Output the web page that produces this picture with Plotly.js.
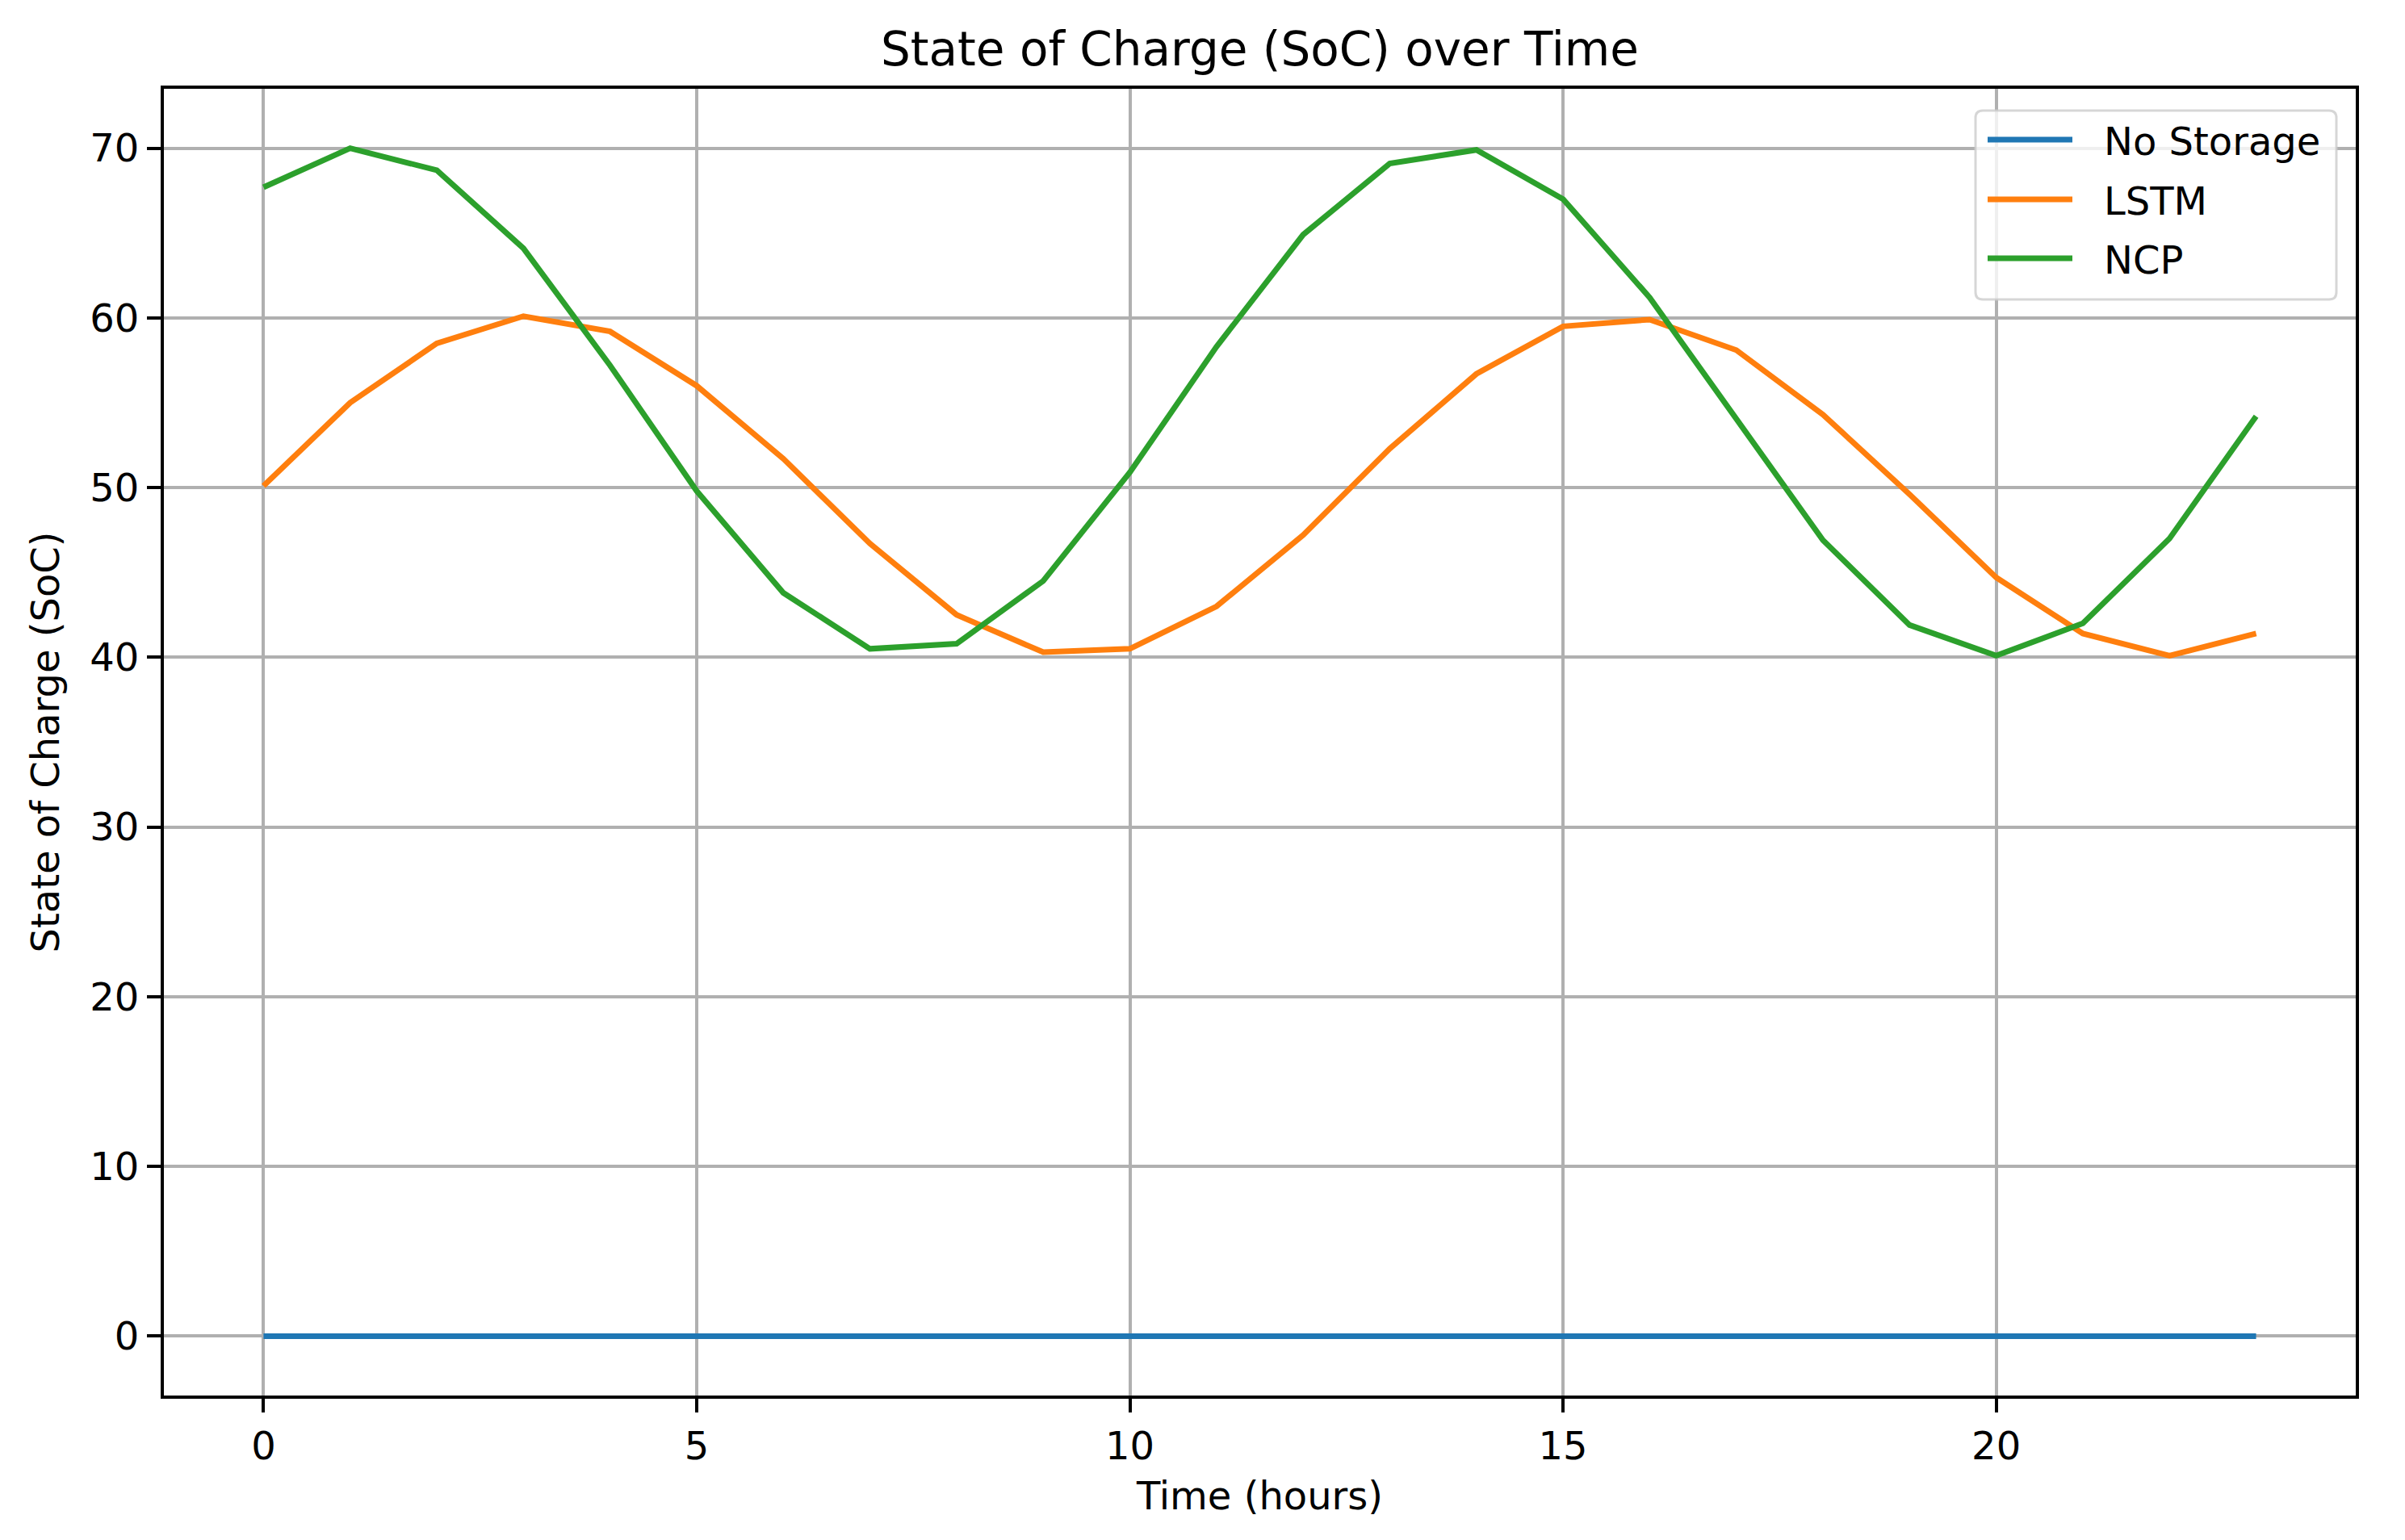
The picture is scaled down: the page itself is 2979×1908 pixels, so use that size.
<!DOCTYPE html>
<html>
<head>
<meta charset="utf-8">
<script src="https://cdn.plot.ly/plotly-3.0.1.min.js"></script>
<style>
  html, body { margin: 0; padding: 0; background: #ffffff; }
  #chart { width: 2979px; height: 1908px; }
</style>
</head>
<body>
<div id="chart"></div>
<script>
// ---- Data ----
const hours = [0,1,2,3,4,5,6,7,8,9,10,11,12,13,14,15,16,17,18,19,20,21,22,23];
const noStorage = [0,0,0,0,0,0,0,0,0,0,0,0,0,0,0,0,0,0,0,0,0,0,0,0];
const lstm = [50.1, 55.0, 58.5, 60.1, 59.2, 56.0, 51.7, 46.7, 42.5, 40.3, 40.5, 43.0,
              47.2, 52.3, 56.7, 59.5, 59.9, 58.1, 54.3, 49.6, 44.7, 41.4, 40.1, 41.4];
const ncp = [67.7, 70.0, 68.7, 64.1, 57.2, 49.8, 43.8, 40.5, 40.8, 44.5, 50.9, 58.3,
             64.9, 69.1, 69.9, 67.0, 61.2, 54.0, 46.9, 41.9, 40.1, 42.0, 47.0, 54.2];
const seriesNames = ["No Storage", "LSTM", "NCP"];
const xTicks = [0, 5, 10, 15, 20];
const yTicks = [0, 10, 20, 30, 40, 50, 60, 70];

const FONT = "DejaVu Sans, Liberation Sans, sans-serif";
const colors = ["#1f77b4", "#ff7f0e", "#2ca02c"];
const seriesData = [noStorage, lstm, ncp];

// ---- Geometry ----
const W = 2979, H = 1908;
const M = { l: 203, r: 61, t: 110, b: 179 };
const PW = W - M.l - M.r, PH = H - M.t - M.b;
const px2x = (px) => (px - M.l) / PW;         // pixel -> paper x
const py2y = (py) => 1 - (py - M.t) / PH;     // pixel -> paper y

const traces = seriesData.map((ys, i) => ({
  x: hours,
  y: ys,
  type: "scatter",
  mode: "lines",
  name: seriesNames[i],
  showlegend: false,
  line: { color: colors[i], width: 7 }
}));

// ---- Matplotlib-style legend (box, line samples, labels) ----
const lg = { left: 2447, right: 2894, top: 137, bottom: 371, r: 9,
             lineX0: 2462, lineX1: 2567, textX: 2604, rowY: [173, 247, 320] };
function roundedRectPath(l, t, r, b, rad) {
  const x0 = px2x(l), x1 = px2x(r), yT = py2y(t), yB = py2y(b);
  const rx = rad / PW, ry = rad / PH;
  return `M ${x0 + rx},${yT} L ${x1 - rx},${yT} Q ${x1},${yT} ${x1},${yT - ry} ` +
         `L ${x1},${yB + ry} Q ${x1},${yB} ${x1 - rx},${yB} ` +
         `L ${x0 + rx},${yB} Q ${x0},${yB} ${x0},${yB + ry} ` +
         `L ${x0},${yT - ry} Q ${x0},${yT} ${x0 + rx},${yT} Z`;
}
const shapes = [{
  type: "path", xref: "paper", yref: "paper", layer: "above",
  path: roundedRectPath(lg.left, lg.top, lg.right, lg.bottom, lg.r),
  fillcolor: "rgba(255,255,255,0.8)",
  line: { color: "rgba(204,204,204,0.8)", width: 3 }
}];
const annotations = [];
seriesNames.forEach((name, i) => {
  shapes.push({
    type: "line", xref: "paper", yref: "paper", layer: "above",
    x0: px2x(lg.lineX0), x1: px2x(lg.lineX1),
    y0: py2y(lg.rowY[i]), y1: py2y(lg.rowY[i]),
    line: { color: colors[i], width: 7 }
  });
  annotations.push({
    xref: "paper", yref: "paper", showarrow: false,
    x: px2x(lg.textX), y: py2y(lg.rowY[i] + 2),
    xanchor: "left", yanchor: "middle",
    text: name,
    font: { family: FONT, size: 48, color: "#000000" }
  });
});

const axisCommon = {
  showline: true,
  mirror: true,
  linecolor: "#000000",
  linewidth: 4,
  ticks: "outside",
  ticklen: 17,
  tickwidth: 4,
  tickcolor: "#000000",
  showgrid: true,
  gridcolor: "#b0b0b0",
  gridwidth: 4,
  zeroline: false,
  tickfont: { family: FONT, size: 48, color: "#000000" }
};

const layout = {
  width: W,
  height: H,
  paper_bgcolor: "#ffffff",
  plot_bgcolor: "#ffffff",
  margin: { l: M.l, r: M.r, t: M.t, b: M.b, pad: 0 },
  font: { family: FONT, color: "#000000" },
  title: {
    text: "State of Charge (SoC) over Time",
    font: { family: FONT, size: 58, color: "#000000" },
    x: 0.5, xref: "paper", xanchor: "center",
    y: 1 - 61 / H, yref: "container", yanchor: "middle"
  },
  xaxis: Object.assign({}, axisCommon, {
    range: [-1.15, 24.15],
    tickvals: xTicks,
    ticktext: xTicks.map(String),
    title: { text: "Time (hours)", font: { family: FONT, size: 48, color: "#000000" }, standoff: 20 }
  }),
  yaxis: Object.assign({}, axisCommon, {
    range: [-3.5, 73.5],
    tickvals: yTicks,
    ticktext: yTicks.map(String),
    title: { text: "State of Charge (SoC)", font: { family: FONT, size: 48, color: "#000000" }, standoff: 24 }
  }),
  showlegend: false,
  shapes: shapes,
  annotations: annotations
};

Plotly.newPlot("chart", traces, layout, { staticPlot: true, displayModeBar: false });
</script>
</body>
</html>
